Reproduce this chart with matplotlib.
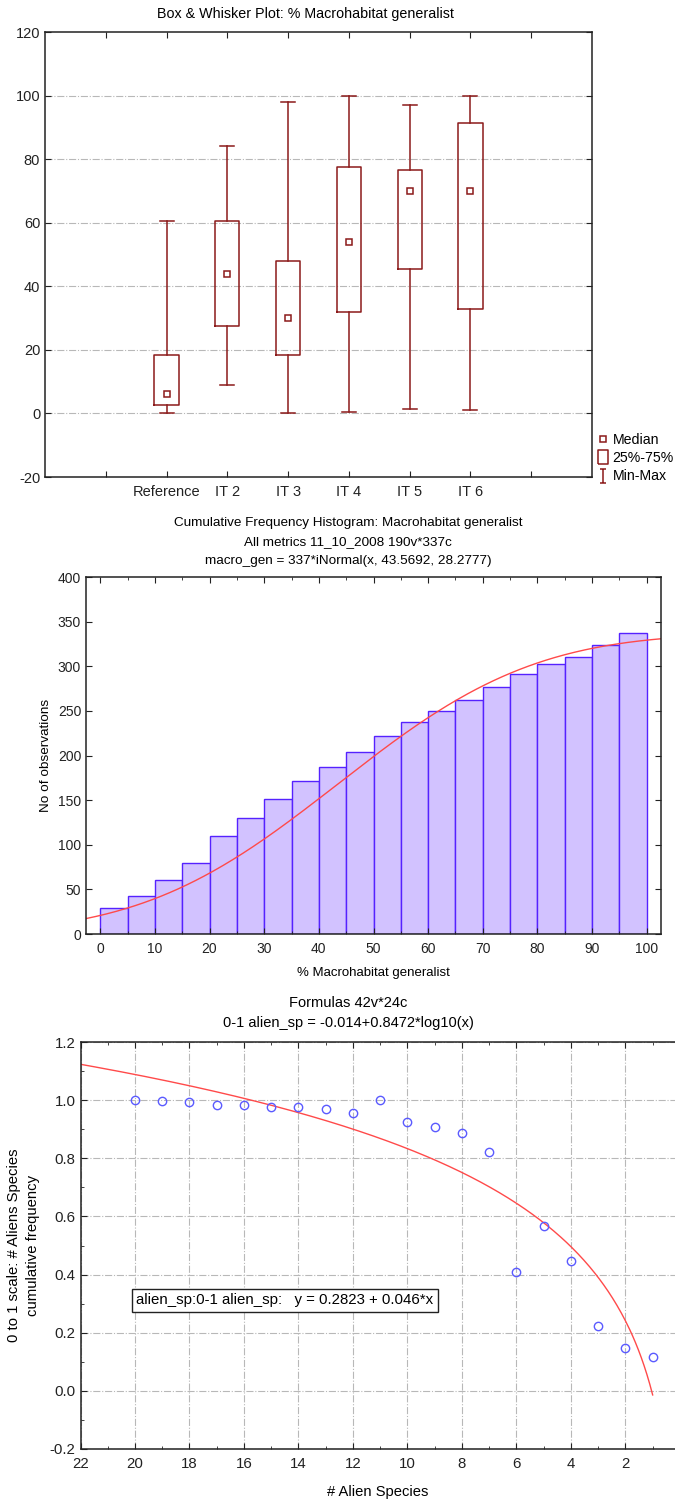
import math
import numpy as np
import matplotlib
matplotlib.use("Agg")
import matplotlib.pyplot as plt
from matplotlib.lines import Line2D
from matplotlib.path import Path
from matplotlib.ticker import MultipleLocator, FormatStrFormatter

plt.rcParams['font.family'] = ['Liberation Sans', 'DejaVu Sans']
plt.rcParams['font.size'] = 10
plt.rcParams['axes.unicode_minus'] = False

# ---------------- data ----------------
# box & whisker: % Macrohabitat generalist
groups = ["Reference", "IT 2", "IT 3", "IT 4", "IT 5", "IT 6"]
box_min = [0.0, 9.0, 0.0, 0.5, 1.5, 1.0]
box_q1 = [2.5, 27.5, 18.5, 32.0, 45.5, 33.0]
box_med = [6.0, 44.0, 30.0, 54.0, 70.0, 70.0]
box_q3 = [18.5, 60.5, 48.0, 77.5, 76.5, 91.5]
box_max = [60.5, 84.0, 98.0, 100.0, 97.0, 100.0]

# cumulative histogram (bin width 5)
bin_left = [0, 5, 10, 15, 20, 25, 30, 35, 40, 45, 50, 55, 60, 65, 70, 75, 80, 85, 90, 95]
cum_counts = [29, 43, 60, 80, 110, 130, 151, 171, 187, 204,
              222, 238, 250, 262, 277, 291, 302, 310, 324, 337]
fit_n, fit_mean, fit_sd = 337, 43.5692, 28.2777

# alien species cumulative frequency
alien_x = [20, 19, 18, 17, 16, 15, 14, 13, 12, 11, 10, 9, 8, 7, 6, 5, 4, 3, 2, 1]
alien_y = [1.000, 0.998, 0.995, 0.983, 0.983, 0.978, 0.977, 0.970, 0.955, 1.002,
           0.925, 0.908, 0.887, 0.820, 0.410, 0.568, 0.447, 0.223, 0.149, 0.115]
log_a, log_b = -0.014, 0.8472

# ---------------- styles ----------------
BOX_C = '#8B1A1A'
BAR_FACE = '#D2C2FF'
BAR_EDGE = '#5522FF'
FIT_C = '#FF4A4A'
PT_C = '#5A5AFF'
GRID_KW = dict(color='#b8b8b8', linestyle='-.', linewidth=0.8)

fig = plt.figure(figsize=(6.75, 15), dpi=100)

def style_axes(ax, labelsize):
    for s in ax.spines.values():
        s.set_linewidth(1.1)
        s.set_color('#222222')
    ax.tick_params(which='both', direction='in', top=True, right=True, colors='#222222',
                   labelsize=labelsize)
    ax.tick_params(which='major', length=4)
    ax.tick_params(which='minor', length=2.5)

# ========== panel 1: box plot ==========
ax1 = fig.add_axes([45 / 675, 1 - 477 / 1500, 547 / 675, 445 / 1500])
style_axes(ax1, 10.5)
pos = np.arange(2, 2 + len(groups))
stats = [dict(med=m, q1=a, q3=b, whislo=lo, whishi=hi, label=g)
         for g, lo, a, m, b, hi in zip(groups, box_min, box_q1, box_med, box_q3, box_max)]
ax1.bxp(stats, positions=pos, widths=0.4, capwidths=0.23, showfliers=False,
        boxprops=dict(color=BOX_C, linewidth=1.1),
        whiskerprops=dict(color=BOX_C, linewidth=1.1),
        capprops=dict(color=BOX_C, linewidth=1.1),
        medianprops=dict(linewidth=0))
ax1.plot(pos, box_med, 's', ms=5, mfc='white', mec=BOX_C, mew=1.1, zorder=5)
ax1.set_xlim(0, 9)
ax1.set_ylim(-20, 120)
ax1.set_xticks(np.arange(1, 9))
ax1.set_xticklabels([''] + groups + [''])
ax1.set_yticks(np.arange(-20, 121, 20))
for v in range(0, 101, 20):
    ax1.axhline(v, zorder=0, **GRID_KW)
ax1.tick_params(axis='x', pad=6)
fig.text(305 / 675, 1 - 14 / 1500, "Box & Whisker Plot: % Macrohabitat generalist",
         ha='center', va='center', fontsize=10.3)

box_marker = Path([(-0.7, -1), (0.7, -1), (0.7, 1), (-0.7, 1), (-0.7, -1)])
whisk_marker = Path([(-0.45, 1), (0.45, 1), (0, 1), (0, -1), (-0.45, -1), (0.45, -1)],
                    [Path.MOVETO, Path.LINETO, Path.MOVETO, Path.LINETO, Path.MOVETO, Path.LINETO])
handles = [
    Line2D([], [], ls='none', marker='s', ms=5, mfc='white', mec=BOX_C, mew=1.1),
    Line2D([], [], ls='none', marker=box_marker, ms=9.5, mfc='white', mec=BOX_C, mew=1.1),
    Line2D([], [], ls='none', marker=whisk_marker, ms=10.5, mfc='none', mec=BOX_C, mew=1.1),
]
fig.legend(handles, ["Median", "25%-75%", "Min-Max"], loc='lower left',
           bbox_to_anchor=(589 / 675, 1 - 492 / 1500), frameon=False,
           handlelength=0.8, handletextpad=0.25, labelspacing=0.3,
           borderpad=0.1, fontsize=10.2)

# ========== panel 2: cumulative histogram ==========
ax2 = fig.add_axes([86 / 675, 1 - 934 / 1500, 575 / 675, 357 / 1500])
style_axes(ax2, 10)
ax2.bar(bin_left, cum_counts, width=5, align='edge', color=BAR_FACE,
        edgecolor=BAR_EDGE, linewidth=1.0)
xs = np.linspace(-2.6, 102.6, 400)
cdf = np.array([0.5 * (1 + math.erf((x - fit_mean) / (fit_sd * math.sqrt(2)))) for x in xs])
ax2.plot(xs, fit_n * cdf, color=FIT_C, linewidth=1.0)
ax2.set_xlim(-2.6, 102.6)
ax2.set_ylim(0, 400)
ax2.set_xticks(np.arange(0, 101, 10))
ax2.xaxis.set_minor_locator(MultipleLocator(5))
ax2.set_yticks(np.arange(0, 401, 50))
ax2.set_ylabel("No of observations", fontsize=9.7, labelpad=4)
ax2.set_xlabel("% Macrohabitat generalist", fontsize=9.5, labelpad=8)
ax2.tick_params(axis='x', pad=6)
for i, line in enumerate(["Cumulative Frequency Histogram: Macrohabitat generalist",
                          "All metrics 11_10_2008 190v*337c",
                          "macro_gen = 337*iNormal(x, 43.5692, 28.2777)"]):
    fig.text(348 / 675, 1 - (523 + 19 * i) / 1500, line, ha='center', va='center', fontsize=9.7)

# ========== panel 3: alien species ==========
ax3 = fig.add_axes([80.5 / 675, 1 - 1449 / 1500, 594.5 / 675, 407 / 1500])
style_axes(ax3, 10.8)
ax3.spines['right'].set_visible(False)
ax3.tick_params(which='both', right=False)
ax3.set_xlim(22, 0.18)
ax3.set_ylim(-0.2, 1.2)
ax3.set_xticks(np.arange(2, 23, 2))
ax3.xaxis.set_minor_locator(MultipleLocator(1))
ax3.set_yticks(np.arange(-0.2, 1.21, 0.2))
ax3.yaxis.set_minor_locator(MultipleLocator(0.1))
ax3.yaxis.set_major_formatter(FormatStrFormatter('%.1f'))
ax3.grid(True, which='major', **GRID_KW)
ax3.set_axisbelow(True)
xc = np.linspace(1, 22, 400)
ax3.plot(xc, log_a + log_b * np.log10(xc), color=FIT_C, linewidth=1.0)
ax3.plot(alien_x, alien_y, 'o', ms=6, mfc='none', mec=PT_C, mew=1.0)
ax3.set_xlabel("# Alien Species", fontsize=10.6, labelpad=10)
ax3.set_ylabel("0 to 1 scale: # Aliens Species\ncumulative frequency", fontsize=10.7,
               labelpad=7, linespacing=1.45)
ax3.tick_params(axis='x', pad=6)
ax3.text(0.094, 0.365, "alien_sp:0-1 alien_sp:   y = 0.2823 + 0.046*x",
         transform=ax3.transAxes, fontsize=10.8, ha='left', va='center',
         bbox=dict(boxstyle='square,pad=0.3', fc='white', ec='#222222', lw=1.0))
fig.text(348 / 675, 1 - 1003 / 1500, "Formulas 42v*24c", ha='center', va='center', fontsize=10.5)
fig.text(348 / 675, 1 - 1023 / 1500, "0-1 alien_sp = -0.014+0.8472*log10(x)",
         ha='center', va='center', fontsize=10.5)

fig.savefig("out.png", dpi=100)
